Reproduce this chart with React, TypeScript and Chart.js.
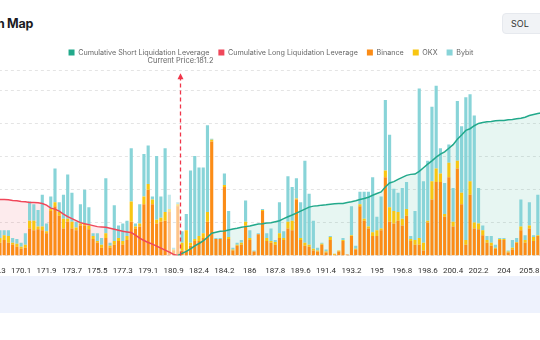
import React, { useEffect, useRef } from 'react';
import { Chart, registerables } from 'chart.js';

Chart.register(...registerables);

// ---- axis / categories ----
const TICK_LABELS = [
  '168.3', '170.1', '171.9', '173.7', '175.5', '177.3', '179.1', '180.9', '182.4', '184.2', '186',
  '187.8', '189.6', '191.4', '193.2', '195', '196.8', '198.6', '200.4', '202.2', '204', '205.8',
];
const CURRENT_PRICE = 181.2;
const LOW_START = 167.4;
const LOW_COUNT = 46;
const MID_LEVELS = [181.1, 181.3, 181.6, 181.8, 182.1];
const HIGH_START = 182.4;
const HIGH_COUNT = 86;
const LEVEL_STEP = 0.3;

const PRICE_LEVELS: number[] = [];
for (let i = 0; i < LOW_COUNT; i++) PRICE_LEVELS.push(+(LOW_START + LEVEL_STEP * i).toFixed(1));
MID_LEVELS.forEach((v) => PRICE_LEVELS.push(v));
for (let i = 0; i < HIGH_COUNT; i++) PRICE_LEVELS.push(+(HIGH_START + LEVEL_STEP * i).toFixed(1));
const CATEGORIES = PRICE_LEVELS.map((v) => String(v));

// ---- series ----
const BINANCE = [
  8, 7, 9, 7,
  6.5, 8, 6.5, 5.5, 4.5, 3.5, 4, 14, 13, 13.5,
  13, 11.5, 23, 25.5, 20.5, 14, 17.5, 14, 13, 15.5,
  15.5, 13.5, 8.5, 6.5, 4, 9, 4, 5.5, 7.5, 5.5,
  8, 17.5, 14, 15, 26.5, 34, 26.5, 16.5, 17.5, 18,
  22.5, 2.5, 25.5, 2.5, 2.5, 5, 7.5, 7.5, 9, 17.5,
  59, 8.5, 8.5, 35.5, 8.5, 2.5, 5, 5.5, 15.5, 8,
  2, 11, 23, 7.5, 6.5, 5.5, 9, 8, 14, 13,
  29, 8, 5, 4.5, 2.5, 2, 5.5, 1.5, 8, 0.3,
  2, 7.5, 0.5, 10, 3, 25.5, 18, 14, 10, 10,
  13, 40.5, 17.5, 16.5, 18, 15.5, 20.5, 7.5, 5.5, 5.5,
  2.5, 17, 29, 38, 38, 20, 40.5, 15, 45, 26.5,
  5.5, 31.5, 14, 13.5, 10.5, 6.5, 5, 3.5, 8, 8,
  1.5, 3, 6.5, 13, 6.5, 14, 7.5, 10, 6, 8,
  5, 7, 6,
];
const OKX = [
  3, 2, 3, 3,
  2.5, 2.5, 3.5, 1, 1.5, 1, 1.5, 4, 5, 1.5,
  2, 1, 1, 2, 2, 5, 1.5, 3.5, 1.5, 1,
  1, 2, 1.5, 1, 1.5, 2.5, 1, 2, 1.5, 2,
  2, 10.5, 1, 1.5, 4, 3, 2.5, 2, 2, 4.5,
  1.5, 0.5, 1, 4, 10.5, 1.5, 1, 2.5, 2.5, 5,
  1, 0, 0, 1, 1, 0.5, 0.5, 1, 2, 1,
  0, 0, 0.5, 1.5, 1, 1.5, 2.5, 1, 3.5, 5,
  0.5, 1, 1.5, 1, 1, 0.5, 0.5, 0.5, 1.5, 0.5,
  0.5, 0.5, 0, 0.5, 0.5, 1, 1, 1, 2, 3,
  1, 3.5, 7.5, 6.5, 4.5, 3.5, 3.5, 1, 2.5, 3.5,
  4, 1, 9.5, 7, 4.5, 1.5, 7.5, 2.5, 4, 6,
  2.5, 7, 3, 3, 2.5, 1.5, 1.5, 0.5, 0.5, 0.5,
  0.5, 1, 0.5, 2, 1.5, 1.5, 2, 0.5, 1, 1,
  1, 1, 1,
];
const BYBIT = [
  6, 5, 4, 5,
  4, 2.5, 3, 2.5, 2.5, 2, 6, 10, 8.5, 8.5,
  16.5, 4, 6.5, 17.5, 5, 12.5, 23, 15, 3, 10,
  17.5, 9.5, 1.5, 4, 3.5, 28.5, 1.5, 18.5, 6.5, 9,
  8, 27.5, 1.5, 10, 22, 20, 1.5, 33, 11, 33,
  7.5, 1, 1, 6, 8.5, 37.5, 43, 35.5, 34, 45,
  0.5, 0.5, 0.5, 6, 13.5, 1, 1, 1.5, 11, 4,
  0.5, 0.5, 0.5, 2.5, 6.5, 1, 16, 3.5, 23.5, 17.5,
  10.5, 18.5, 42.5, 26.5, 14.5, 1.5, 0.5, 1, 0.5, 0,
  0, 1, 0, 15, 1.5, 6.5, 14, 18, 28.5, 7,
  16.5, 36.5, 37.5, 11.5, 10, 16, 14, 1.5, 15, 77.5,
  32, 31, 38.5, 43, 13, 16, 9.5, 17.5, 31, 34.5,
  74, 45, 55.5, 18.5, 2.5, 2, 3.5, 1.5, 0.5, 0.5,
  0.5, 4, 2, 14, 2.5, 12, 1, 21, 3, 5,
  2, 4, 3,
];
// cumulative long (below current price), starts at first level
const LONG_VALUES = [
  17.5, 17.2, 17.2, 17.1, 16.9, 16.9, 16.8, 16.6, 16.5, 16.3, 16.2, 16.0, 16.0, 15.9, 15.7, 15.2,
  14.3, 14.0, 13.4, 12.5, 11.7, 11.1, 10.5, 9.9, 9.6, 9.3, 9.0, 8.7, 8.6, 8.5, 8.2, 7.9, 7.6,
  7.3, 7.1, 6.9, 6.1, 5.2, 4.5, 3.9, 3.4, 2.8, 2.2, 1.6, 1.0, 0.3, 0,
];
// cumulative short (above current price), ends at last level
const SHORT_VALUES = [
  0, 0.6, 1.2, 2.0, 2.9, 3.6, 4.4, 5.5, 6.7, 7.0,
  7.3, 7.4, 7.7, 8.0, 8.2, 8.5, 8.7, 8.9, 9.2, 9.5,
  9.6, 9.8, 9.9, 10.2, 10.5, 11.1, 11.7, 12.2, 12.8, 13.4,
  14.0, 14.6, 14.9, 15.0, 15.2, 15.3, 15.5, 15.6, 15.7, 15.7,
  16.0, 16.2, 16.5, 16.9, 17.2, 17.6, 18.2, 18.7, 19.2, 20.7,
  21.9, 22.3, 23.0, 23.6, 24.2, 24.5, 24.6, 25.4, 26.5, 27.6,
  28.6, 29.7, 30.6, 31.3, 32.4, 33.5, 35.1, 36.4, 37.8, 38.3,
  39.2, 39.9, 40.2, 40.4, 40.5, 40.7, 40.8, 40.8, 41.0, 41.1,
  41.3, 41.5, 41.8, 42.3, 42.6, 42.9, 43.1, 43.4, 43.7, 44.0,
  44.3,
];
const N = CATEGORIES.length;
const LONG_CUM: (number | null)[] = [...LONG_VALUES, ...new Array(N - LONG_VALUES.length).fill(null)];
const SHORT_CUM: (number | null)[] = [...new Array(N - SHORT_VALUES.length).fill(null), ...SHORT_VALUES];

// levels just below the current price are shown faded
const FADE_RANGE = 0.6;

const COLORS = {
  short: '#22a98b',
  long: '#f0475a',
  binance: [251, 140, 23],
  okx: [248, 198, 18],
  bybit: [136, 212, 216],
};

function barColor(rgb: number[]) {
  return (ctx: any) => {
    const p = PRICE_LEVELS[ctx.dataIndex];
    const faded = p < CURRENT_PRICE && p >= CURRENT_PRICE - FADE_RANGE - 1e-6;
    return `rgba(${rgb[0]},${rgb[1]},${rgb[2]},${faded ? 0.5 : 1})`;
  };
}

function currentPriceIndex(): number {
  for (let i = 0; i < PRICE_LEVELS.length - 1; i++) {
    const a = PRICE_LEVELS[i];
    const b = PRICE_LEVELS[i + 1];
    if (CURRENT_PRICE >= a && CURRENT_PRICE <= b) return i + (CURRENT_PRICE - a) / (b - a);
  }
  return 0;
}

const currentPricePlugin = {
  id: 'currentPrice',
  afterDatasetsDraw(chart: any) {
    const { ctx, chartArea } = chart;
    const x = Math.round(chart.scales.x.getPixelForValue(currentPriceIndex())) + 0.5;
    const top = chartArea.top;
    ctx.save();
    ctx.strokeStyle = '#f0364a';
    ctx.lineWidth = 1.3;
    ctx.setLineDash([4, 3]);
    ctx.beginPath();
    ctx.moveTo(x, chartArea.bottom);
    ctx.lineTo(x, top + 8);
    ctx.stroke();
    ctx.setLineDash([]);
    ctx.fillStyle = '#f0364a';
    ctx.beginPath();
    ctx.moveTo(x, top + 3);
    ctx.lineTo(x - 3, top + 9);
    ctx.lineTo(x + 3, top + 9);
    ctx.closePath();
    ctx.fill();
    ctx.font = '7.4px Inter, "Noto Sans", sans-serif';
    ctx.fillStyle = '#666';
    ctx.textAlign = 'center';
    ctx.textBaseline = 'middle';
    ctx.fillText('Current Price:' + CURRENT_PRICE, x, top - 9);
    ctx.restore();
  },
};

const legendSpacer = {
  id: 'legendSpacer',
  beforeInit(chart: any) {
    const orig = chart.legend.fit;
    chart.legend.fit = function fit() {
      orig.bind(chart.legend)();
      this.height += 4;
    };
  },
};

export default function App() {
  const ref = useRef<HTMLCanvasElement>(null);

  useEffect(() => {
    if (!ref.current) return;
    const chart = new Chart(ref.current, {
      type: 'bar',
      data: {
        labels: CATEGORIES,
        datasets: [
          {
            type: 'line',
            label: 'Cumulative Short Liquidation Leverage',
            data: SHORT_CUM,
            yAxisID: 'y1',
            borderColor: COLORS.short,
            backgroundColor: 'rgba(34,169,139,0.11)',
            fill: 'origin',
            pointRadius: 0,
            borderWidth: 1.5,
            tension: 0,
            order: 0,
          } as any,
          {
            type: 'line',
            label: 'Cumulative Long Liquidation Leverage',
            data: LONG_CUM,
            yAxisID: 'y1',
            borderColor: COLORS.long,
            backgroundColor: 'rgba(240,71,90,0.11)',
            fill: 'origin',
            pointRadius: 0,
            borderWidth: 1.5,
            tension: 0,
            order: 0,
          } as any,
          { type: 'bar', label: 'Binance', data: BINANCE, backgroundColor: barColor(COLORS.binance), yAxisID: 'y', order: 1 } as any,
          { type: 'bar', label: 'OKX', data: OKX, backgroundColor: barColor(COLORS.okx), yAxisID: 'y', order: 1 } as any,
          { type: 'bar', label: 'Bybit', data: BYBIT, backgroundColor: barColor(COLORS.bybit), yAxisID: 'y', order: 1 } as any,
        ],
      },
      options: {
        responsive: false,
        maintainAspectRatio: false,
        animation: false,
        devicePixelRatio: 1,
        layout: { padding: 0 },
        datasets: { bar: { barPercentage: 0.74, categoryPercentage: 1 } } as any,
        plugins: {
          filler: { drawTime: 'beforeDatasetsDraw' } as any,
          tooltip: { enabled: false },
          legend: {
            display: true,
            position: 'top',
            labels: {
              boxWidth: 6,
              boxHeight: 6,
              padding: 9,
              color: '#666',
              font: { size: 7.2, family: 'Inter, "Noto Sans", sans-serif' },
              generateLabels: (c: any) =>
                (Chart.defaults.plugins.legend.labels as any).generateLabels(c).map((l: any) => {
                  const ds: any = c.data.datasets[l.datasetIndex];
                  const base = ds.type === 'line' ? ds.borderColor : null;
                  const rgb = ds.label === 'Binance' ? COLORS.binance : ds.label === 'OKX' ? COLORS.okx : COLORS.bybit;
                  const col = base || `rgb(${rgb[0]},${rgb[1]},${rgb[2]})`;
                  return { ...l, fillStyle: col, strokeStyle: col, lineWidth: 0, lineDash: [] };
                }),
            },
          },
        },
        scales: {
          x: {
            stacked: true,
            offset: true,
            grid: { display: false },
            border: { display: false },
            ticks: {
              autoSkip: false,
              maxRotation: 0,
              minRotation: 0,
              padding: 3,
              color: '#333',
              font: { size: 8, family: 'Roboto, sans-serif' },
              callback: (_v: any, idx: number) => (TICK_LABELS.includes(CATEGORIES[idx]) ? CATEGORIES[idx] : ''),
            },
          },
          y: { display: false, stacked: true, min: 0, max: 96 },
          y1: {
            position: 'right',
            stacked: false,
            min: 0,
            max: 56,
            ticks: { display: false, stepSize: 10 },
            grid: { color: '#e4e4e4', drawTicks: false, lineWidth: 1 },
            border: { display: false, dash: [3, 3] },
          },
        },
      },
      plugins: [legendSpacer, currentPricePlugin],
    });
    return () => chart.destroy();
  }, []);

  return (
    <div
      style={{
        position: 'absolute',
        left: 0,
        top: 0,
        width: 540,
        height: 340,
        overflow: 'hidden',
        background: '#fff',
        fontFamily: 'Inter, "Noto Sans", sans-serif',
      }}
    >
      <div
        style={{
          position: 'absolute',
          right: 507,
          top: 16,
          fontSize: 12.5,
          fontWeight: 700,
          letterSpacing: -0.3,
          color: '#1b1b1f',
          whiteSpace: 'nowrap',
          lineHeight: '16px',
        }}
      >
        Liquidation Map
      </div>
      <div
        style={{
          position: 'absolute',
          left: 502,
          top: 13,
          width: 60,
          height: 21,
          boxSizing: 'border-box',
          background: '#f1f3f6',
          border: '1px solid #e6e9ee',
          borderRadius: 4,
          fontSize: 9,
          lineHeight: '19px',
          paddingLeft: 8,
          color: '#333',
        }}
      >
        SOL
      </div>
      <canvas
        ref={ref}
        width={582}
        height={239}
        style={{ position: 'absolute', left: -20, top: 40, width: 582, height: 239 }}
      />
      <div style={{ position: 'absolute', left: 0, top: 276, width: 540, height: 37, background: '#eef2fd' }} />
    </div>
  );
}
